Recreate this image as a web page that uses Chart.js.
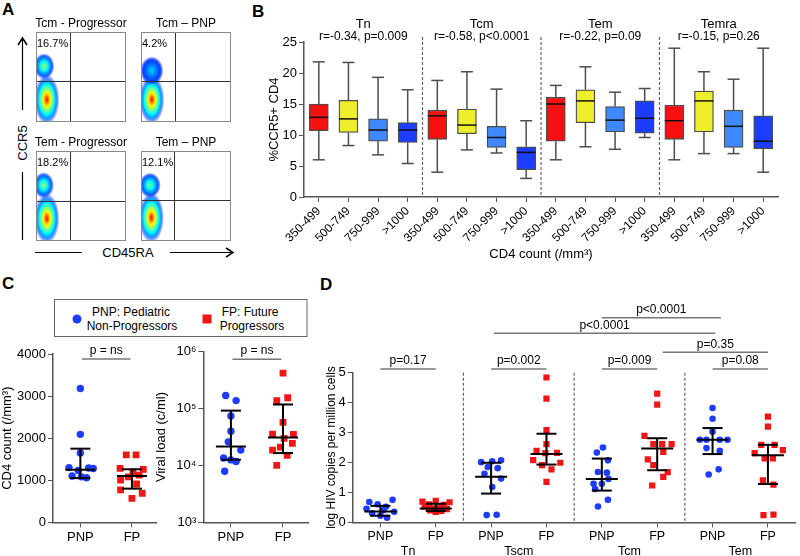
<!DOCTYPE html>
<html>
<head>
<meta charset="utf-8">
<script src="https://cdn.jsdelivr.net/npm/chart.js@4.4.1/dist/chart.umd.min.js"></script>
<style>
  body { margin: 0; width: 800px; height: 556px; position: relative; overflow: hidden; background: #fff;
         font-family: "Liberation Sans", Arial, Helvetica, sans-serif; }
  canvas, svg { position: absolute; }
</style>
</head>
<body>
<svg width="800" height="556" style="left:0;top:0" font-family="Liberation Sans, Arial, sans-serif">
  <text x="2" y="15" font-size="17" font-weight="bold">A</text>
  <text x="252" y="17" font-size="17" font-weight="bold">B</text>
  <text x="2" y="289" font-size="17" font-weight="bold">C</text>
  <text x="320" y="290" font-size="17" font-weight="bold">D</text>
  <!-- CCR5 axis arrow -->
  <line x1="22.5" y1="38" x2="22.5" y2="110" stroke="#000" stroke-width="1.2"/>
  <polyline points="18,45 22.5,38 27,45" fill="none" stroke="#000" stroke-width="1.5"/>
  <text transform="translate(27,143) rotate(-90)" text-anchor="middle" font-size="13">CCR5</text>
  <line x1="22.5" y1="172" x2="22.5" y2="240" stroke="#000" stroke-width="1.2"/>
  <!-- CD45RA axis arrow -->
  <line x1="35" y1="252.5" x2="82" y2="252.5" stroke="#000" stroke-width="1.2"/>
  <text x="128" y="257" text-anchor="middle" font-size="13">CD45RA</text>
  <line x1="170" y1="252.5" x2="232" y2="252.5" stroke="#000" stroke-width="1.2"/>
  <polyline points="226,248 233,252.5 226,257" fill="none" stroke="#000" stroke-width="1.5"/>
  <!-- legend of panel C -->
  <rect x="54.5" y="299.5" width="252.5" height="37" fill="none" stroke="#666" stroke-width="1"/>
  <circle cx="77" cy="319" r="4.5" fill="#1e3cff"/>
  <text x="131" y="316" text-anchor="middle" font-size="12">PNP: Pediatric</text>
  <text x="132" y="330" text-anchor="middle" font-size="12">Non-Progressors</text>
  <rect x="202.5" y="314.5" width="9" height="9" fill="#f01616"/>
  <text x="250" y="316" text-anchor="middle" font-size="12">FP: Future</text>
  <text x="252" y="330" text-anchor="middle" font-size="12">Progressors</text>
</svg>

<canvas id="flow0" width="110" height="112" style="left:26px;top:12px"></canvas>
<canvas id="flow1" width="110" height="112" style="left:131px;top:12px"></canvas>
<canvas id="flow2" width="110" height="112" style="left:26px;top:131px"></canvas>
<canvas id="flow3" width="110" height="112" style="left:131px;top:131px"></canvas>
<canvas id="boxes" width="527" height="266" style="left:263px;top:0px"></canvas>
<canvas id="cd4" width="170" height="216" style="left:0px;top:340px"></canvas>
<canvas id="vl" width="170" height="216" style="left:150px;top:340px"></canvas>
<canvas id="hiv" width="480" height="256" style="left:320px;top:300px"></canvas>

<script>
// ---------- A: flow plots (axis units 0-100) ----------
const flowTitles = ['Tcm - Progressor', 'Tcm \u2013 PNP', 'Tem - Progressor', 'Tem \u2013 PNP'];
const flowPercents = ['16.7%', '4.2%', '18.2%', '12.1%'];
const flowGateX = [37.4, 37.8, 37.4, 37];
const flowGateY = [45.6, 45.2, 44.9, 45.6];
// populations: [centre x, centre y, spread x, spread y, peak density]
const flowLowPop = [[12, 25, 14, 28, 1], [12, 25, 14, 27, 1], [12, 25, 14, 28, 1], [11.5, 26, 14, 28, 1]];
const flowHighPop = [[9, 62, 11.5, 14.5, 0.55], [12, 57, 13, 16, 0.25], [8.5, 62, 11.5, 14.5, 0.55], [10, 62, 12, 14, 0.5]];

// ---------- B: box plots ----------
const tSubsets = ['Tn', 'Tcm', 'Tem', 'Temra'];
const tStats = ['r=-0.34, p=0.009', 'r=-0.58, p<0.0001', 'r=-0.22, p=0.09', 'r=-0.15, p=0.26'];
const cd4Bins = ['350-499', '500-749', '750-999', '>1000'];
const boxMin = [6.0, 8.3, 6.8, 5.4, 4.0, 7.6, 7.1, 3.0, 6.0, 8.1, 7.7, 9.6, 6.0, 7.0, 7.0, 4.0];
const boxQ1 = [10.7, 10.4, 9.0, 8.8, 9.3, 10.2, 8.0, 4.4, 9.0, 12.0, 10.5, 10.3, 9.3, 10.5, 8.0, 7.8];
const boxMedian = [12.85, 12.6, 10.8, 10.8, 13.1, 11.6, 9.6, 7.2, 15.0, 15.5, 12.4, 12.7, 12.3, 15.5, 11.4, 9.0];
const boxQ3 = [15.0, 15.6, 12.6, 12.0, 14.0, 14.2, 11.4, 8.1, 16.1, 17.3, 14.6, 15.5, 14.8, 17.1, 14.0, 13.1];
const boxMax = [21.8, 21.7, 19.3, 17.3, 18.8, 20.2, 17.4, 12.3, 18.0, 21.0, 16.9, 17.5, 24.0, 20.2, 19.0, 24.0];

// ---------- C: CD4 count and viral load ----------
const groups = ['PNP', 'FP'];
const cd4Pnp = [3180, 2090, 1650, 1300, 1290, 1280, 1230, 1100, 1080, 1060];
const cd4PnpJit = [0, 0, 0, -0.22, 0.16, 0.25, -0.04, -0.16, 0.02, 0.12];
const cd4Fp = [1600, 1600, 1280, 1260, 1200, 1120, 1080, 1000, 910, 770, 690, 570];
const cd4FpJit = [-0.11, 0.08, -0.23, 0.22, 0.02, 0.14, -0.07, -0.22, 0.09, -0.22, 0.2, 0];
const cd4Med = [1250, 1100];
const cd4Q1 = [1050, 800];
const cd4Q3 = [1750, 1260];
const vlPnp = [170000, 138000, 74000, 40000, 26000, 18600, 13500, 12500, 11700, 7900];
const vlPnpJit = [-0.1, 0.1, 0, 0, -0.05, 0.19, -0.14, 0, 0.1, -0.12];
const vlFp = [420000, 155000, 138000, 57000, 35500, 35000, 30000, 24500, 21000, 18600, 15000, 10000];
const vlFpJit = [0, 0.09, -0.12, 0, -0.2, 0.2, 0.02, 0.18, -0.05, -0.2, 0.08, -0.12];
const vlMed = [21500, 31000];
const vlQ1 = [12600, 16500];
const vlQ3 = [92000, 118000];
const vlTicks = [1e3, 1e4, 1e5, 1e6];
const vlTickLabels = ['10\u00b3', '10\u2074', '10\u2075', '10\u2076'];
const nsText = 'p = ns';

// ---------- D: HIV DNA per subset ----------
const hivCells = ['Tn', 'Tscm', 'Tcm', 'Tem'];
const hivValues = [
  [0.75, 0.68, 0.6, 0.52, 0.45, 0.4, 0.35, 0.3, 0.22, 0.15],
  [0.72, 0.69, 0.67, 0.6, 0.58, 0.52, 0.5, 0.47, 0.44, 0.4, 0.38, 0.35],
  [2.07, 2.04, 2.01, 1.85, 1.81, 1.62, 1.46, 1.18, 0.24, 0.25],
  [4.84, 4.13, 3.08, 2.61, 2.39, 2.31, 2.32, 2.08, 1.99, 1.91, 1.77, 1.35],
  [2.5, 2.33, 2.07, 1.68, 1.66, 1.45, 1.29, 1.29, 1.11, 0.75, 0.53],
  [4.3, 3.93, 2.89, 2.61, 2.61, 2.61, 2.35, 2.1, 1.91, 1.68, 1.52, 1.23],
  [3.82, 3.46, 3.03, 2.76, 2.76, 2.76, 2.76, 2.48, 2.39, 1.77, 1.6],
  [3.53, 3.2, 2.59, 2.59, 2.41, 2.31, 2.14, 2.14, 1.4, 1.26, 0.26, 0.24]
];
const hivJitter = [
  [0.22, -0.2, -0.05, 0.1, -0.25, 0.05, 0.25, -0.15, 0, 0.12],
  [0, -0.24, 0.25, -0.12, 0.15, -0.2, 0.05, -0.05, 0.2, -0.1, 0.1, 0],
  [0.18, 0.02, -0.18, -0.06, 0.12, -0.12, 0.18, 0.02, -0.08, 0.1],
  [0, 0, 0, 0, -0.18, -0.02, 0.19, -0.24, 0.25, -0.08, 0.09, 0],
  [0.02, -0.09, 0.11, -0.07, 0.09, 0.12, -0.15, 0, -0.12, 0.11, -0.07],
  [0, 0, -0.23, -0.07, 0.09, 0.26, 0.11, -0.17, -0.07, 0.19, 0.11, -0.09],
  [0, 0, 0, -0.23, -0.11, 0.13, 0.27, -0.11, 0.13, 0.11, -0.07],
  [0, 0, -0.12, 0.12, 0.27, -0.24, -0.06, 0.09, -0.09, 0.1, 0.1, -0.08]
];
const hivMed = [0.36, 0.46, 1.52, 2.28, 1.45, 2.47, 2.76, 2.24];
const hivQ1 = [0.22, 0.38, 0.96, 1.93, 1.06, 1.74, 2.28, 1.28];
const hivQ3 = [0.55, 0.62, 1.99, 2.96, 2.13, 2.81, 3.15, 2.59];
const pLabels = ['p=0.17', 'p=0.002', 'p=0.009', 'p=0.08', 'p=0.35', 'p<0.0001', 'p<0.0001'];
const pFrom = [1, 3, 5, 7, 6.1, 3.05, 5];
const pTo = [2, 4, 6, 8, 8, 7.05, 7.15];
const pLevel = [5.12, 5.12, 5.12, 5.12, 5.68, 6.32, 6.84];

// ---------- common ----------
Chart.defaults.font.family = '"Liberation Sans", Arial, Helvetica, sans-serif';
Chart.defaults.color = '#000';
Chart.defaults.animation = false;
Chart.defaults.responsive = false;
Chart.defaults.plugins.legend.display = false;
Chart.defaults.plugins.tooltip.enabled = false;

const BLUE = '#1e3cff';
const RED = '#f01616';
const AXIS = '#555';

function line(ctx, x1, y1, x2, y2) {
  ctx.beginPath();
  ctx.moveTo(x1, y1);
  ctx.lineTo(x2, y2);
  ctx.stroke();
}

// jet colour map used by flow density plots
function jet(v, a) {
  const c = t => Math.round(255 * Math.max(0, Math.min(1, t)));
  return `rgba(${c(1.5 - Math.abs(4 * v - 3))},${c(1.5 - Math.abs(4 * v - 2))},${c(1.5 - Math.abs(4 * v - 1))},${a})`;
}

// ---------- A ----------
const flowPlugin = {
  id: 'flowPlot',
  afterDraw(chart, args, o) {
    const { ctx, chartArea: a, scales: { x, y } } = chart;
    ctx.save();
    ctx.beginPath();
    ctx.rect(a.left, a.top, a.right - a.left, a.bottom - a.top);
    ctx.clip();
    [o.low, o.high].forEach(([cx, cy, rx, ry, heat]) => {
      const px = x.getPixelForValue(cx), py = y.getPixelForValue(cy);
      const prx = x.getPixelForValue(cx + rx) - px;
      const pry = py - y.getPixelForValue(cy + ry);
      ctx.save();
      ctx.translate(px, py);
      ctx.scale(1, pry / prx);
      const g = ctx.createRadialGradient(0, 0, 0, 0, 0, prx);
      for (let k = 0; k <= 10; k++) {
        const t = k / 10;
        const alpha = t < 0.8 ? 1 : Math.max(0, (1 - t) / 0.2) * 0.8;
        g.addColorStop(t, jet(0.15 + 0.73 * heat * Math.pow(1 - t, 1.3), alpha));
      }
      ctx.fillStyle = g;
      ctx.beginPath();
      ctx.arc(0, 0, prx, 0, Math.PI * 2);
      ctx.fill();
      ctx.restore();
    });
    ctx.restore();

    ctx.save();
    ctx.strokeStyle = '#333';
    ctx.lineWidth = 1;
    const gx = Math.round(x.getPixelForValue(o.gateX)) + 0.5;
    const gy = Math.round(y.getPixelForValue(o.gateY)) + 0.5;
    line(ctx, gx, a.top, gx, a.bottom);
    line(ctx, a.left, gy, a.right, gy);
    ctx.strokeStyle = '#888';
    ctx.strokeRect(a.left + 0.5, a.top + 0.5, a.right - a.left - 1, a.bottom - a.top - 1);
    ctx.fillStyle = '#000';
    ctx.font = '11px "Liberation Sans", Arial, sans-serif';
    ctx.textBaseline = 'middle';
    ctx.fillText(o.pct, a.left + 1, a.top + 12);
    ctx.font = '12px "Liberation Sans", Arial, sans-serif';
    ctx.textAlign = 'center';
    ctx.fillText(o.title, (a.left + a.right) / 2, a.top - 8);
    ctx.restore();
  }
};

flowTitles.forEach((title, i) => {
  new Chart(document.getElementById('flow' + i), {
    type: 'scatter',
    data: { datasets: [{ data: [] }] },
    options: {
      layout: { padding: { left: 10, right: 10, top: 20, bottom: 2 } },
      scales: {
        x: { type: 'linear', min: 0, max: 100, display: false },
        y: { type: 'linear', min: 0, max: 100, display: false }
      },
      plugins: {
        flowPlot: {
          title, pct: flowPercents[i], gateX: flowGateX[i], gateY: flowGateY[i],
          low: flowLowPop[i], high: flowHighPop[i]
        }
      }
    },
    plugins: [flowPlugin]
  });
});

// ---------- B ----------
const binColors = ['#f81010', '#eeee2a', '#3f88ff', '#1c3cff'];
const boxLabels = tSubsets.flatMap(() => cd4Bins);

const boxPlugin = {
  id: 'boxWhiskers',
  beforeDatasetsDraw(chart) {
    const { ctx, scales: { x, y } } = chart;
    ctx.save();
    ctx.strokeStyle = '#4d4d4d';
    ctx.lineWidth = 1.5;
    boxLabels.forEach((_, i) => {
      const px = x.getPixelForValue(i);
      const yLo = y.getPixelForValue(boxMin[i]);
      const yHi = y.getPixelForValue(boxMax[i]);
      line(ctx, px, yHi, px, y.getPixelForValue(boxQ3[i]));
      line(ctx, px, y.getPixelForValue(boxQ1[i]), px, yLo);
      line(ctx, px - 6, yHi, px + 6, yHi);
      line(ctx, px - 6, yLo, px + 6, yLo);
    });
    ctx.restore();
  },
  afterDatasetsDraw(chart) {
    const { ctx, chartArea: a, scales: { x, y } } = chart;
    ctx.save();
    ctx.strokeStyle = '#111';
    ctx.lineWidth = 1.5;
    boxLabels.forEach((_, i) => {
      const px = x.getPixelForValue(i);
      const ym = y.getPixelForValue(boxMedian[i]);
      line(ctx, px - 9.5, ym, px + 9.5, ym);
    });
    ctx.strokeStyle = '#666';
    ctx.lineWidth = 1.2;
    ctx.setLineDash([3, 2]);
    for (let g = 1; g < tSubsets.length; g++) {
      const sx = (x.getPixelForValue(4 * g - 1) + x.getPixelForValue(4 * g)) / 2;
      line(ctx, sx, 37, sx, a.bottom);
    }
    ctx.setLineDash([]);
    ctx.fillStyle = '#000';
    ctx.textAlign = 'center';
    ctx.textBaseline = 'middle';
    tSubsets.forEach((name, g) => {
      const cx = (x.getPixelForValue(4 * g) + x.getPixelForValue(4 * g + 3)) / 2;
      ctx.font = '13px "Liberation Sans", Arial, sans-serif';
      ctx.fillText(name, cx, 24);
      ctx.font = '12px "Liberation Sans", Arial, sans-serif';
      ctx.fillText(tStats[g], cx, 36.5);
    });
    ctx.restore();
  }
};

new Chart(document.getElementById('boxes'), {
  type: 'bar',
  data: {
    labels: boxLabels,
    datasets: [{
      data: boxQ1.map((q, i) => [q, boxQ3[i]]),
      backgroundColor: boxLabels.map((_, i) => binColors[i % 4]),
      borderColor: '#4d4d4d',
      borderWidth: 1.3,
      borderSkipped: false,
      barThickness: 19
    }]
  },
  options: {
    layout: { padding: { top: 42, right: 12 } },
    scales: {
      x: {
        grid: { drawOnChartArea: false, offset: false, tickLength: 5, color: AXIS },
        border: { color: AXIS, width: 1.5 },
        ticks: { minRotation: 45, maxRotation: 45, autoSkip: false, padding: 2, font: { size: 12 } },
        title: { display: true, text: 'CD4 count (/mm\u00b3)', font: { size: 13 } },
        afterFit(s) { s.height = 69; }
      },
      y: {
        min: 0, max: 25,
        grid: { drawOnChartArea: false, tickLength: 5, color: AXIS },
        border: { color: AXIS, width: 1.5 },
        ticks: { stepSize: 5, font: { size: 13 }, padding: 2 },
        title: { display: true, text: '%CCR5+ CD4', font: { size: 13 } },
        afterFit(s) { s.width = 41; }
      }
    }
  },
  plugins: [boxPlugin]
});

// ---------- C / D dot plots ----------
function dots(vals, jit, pos, fp, r) {
  return {
    data: vals.map((v, i) => ({ x: pos + jit[i], y: v })),
    pointStyle: fp ? 'rect' : 'circle',
    pointRadius: fp ? r + 1.1 : r,
    backgroundColor: fp ? RED : BLUE,
    borderWidth: 0
  };
}

const errPlugin = {
  id: 'errBars',
  afterDatasetsDraw(chart, args, o) {
    const { ctx, scales: { x, y } } = chart;
    ctx.save();
    ctx.strokeStyle = '#000';
    ctx.lineWidth = 2;
    o.med.forEach((m, i) => {
      const px = x.getPixelForValue(i + 1);
      const y1 = y.getPixelForValue(o.q1[i]);
      const y3 = y.getPixelForValue(o.q3[i]);
      const ym = y.getPixelForValue(m);
      line(ctx, px, y1, px, y3);
      line(ctx, px - o.medHalf, ym, px + o.medHalf, ym);
      line(ctx, px - o.capHalf, y1, px + o.capHalf, y1);
      line(ctx, px - o.capHalf, y3, px + o.capHalf, y3);
    });
    ctx.strokeStyle = '#777';
    ctx.lineWidth = 1.5;
    ctx.fillStyle = '#000';
    ctx.font = '12px "Liberation Sans", Arial, sans-serif';
    ctx.textAlign = 'center';
    ctx.textBaseline = 'middle';
    o.brackets.forEach(b => {
      const x1 = x.getPixelForValue(b.from), x2 = x.getPixelForValue(b.to);
      const by = y.getPixelForValue(b.level);
      line(ctx, x1, by, x2, by);
      ctx.fillText(b.text, (x1 + x2) / 2, by - 8);
    });
    ctx.restore();
  }
};

const hivDecor = {
  id: 'hivDecor',
  afterDraw(chart) {
    const { ctx, chartArea: a, scales: { x } } = chart;
    ctx.save();
    ctx.strokeStyle = '#666';
    ctx.lineWidth = 1.2;
    ctx.setLineDash([3, 2]);
    [2.5, 4.5, 6.5].forEach(v => {
      const sx = x.getPixelForValue(v);
      line(ctx, sx, a.top, sx, a.bottom);
    });
    ctx.setLineDash([]);
    ctx.fillStyle = '#000';
    ctx.font = '12.5px "Liberation Sans", Arial, sans-serif';
    ctx.textAlign = 'center';
    ctx.textBaseline = 'middle';
    hivCells.forEach((c, i) => ctx.fillText(c, x.getPixelForValue(2 * i + 1.5), a.bottom + 29));
    ctx.restore();
  }
};

function dotXAxis(min, max, n, size) {
  return {
    type: 'linear', min, max,
    grid: { drawOnChartArea: false, tickLength: 5, color: AXIS },
    border: { color: AXIS, width: 1.5 },
    ticks: { font: { size: size }, padding: 2, callback: v => groups[(v - 1) % 2] },
    afterBuildTicks(s) { s.ticks = Array.from({ length: n }, (_, i) => ({ value: i + 1 })); },
    afterFit(s) { s.height = 33.7; }
  };
}

new Chart(document.getElementById('cd4'), {
  type: 'scatter',
  data: { datasets: [dots(cd4Pnp, cd4PnpJit, 1, false, 3.7), dots(cd4Fp, cd4FpJit, 2, true, 3.7)] },
  options: {
    layout: { padding: { top: 14, right: 13.3 } },
    scales: {
      x: dotXAxis(0.47, 2.48, 2, 13),
      y: {
        min: 0, max: 4000,
        grid: { drawOnChartArea: false, tickLength: 5, color: AXIS },
        border: { color: AXIS, width: 1.5 },
        ticks: { stepSize: 1000, font: { size: 13 }, padding: 2, callback: v => String(v) },
        title: { display: true, text: 'CD4 count (/mm\u00b3)', font: { size: 13 }, padding: { top: 0, bottom: 4 } },
        afterFit(s) { s.width = 53; }
      }
    },
    plugins: {
      errBars: { med: cd4Med, q1: cd4Q1, q3: cd4Q3, medHalf: 15, capHalf: 10,
        brackets: [{ from: 1.03, to: 1.97, level: 3880, text: nsText }] }
    }
  },
  plugins: [errPlugin]
});

new Chart(document.getElementById('vl'), {
  type: 'scatter',
  data: { datasets: [dots(vlPnp, vlPnpJit, 1, false, 3.7), dots(vlFp, vlFpJit, 2, true, 3.7)] },
  options: {
    layout: { padding: { top: 11.7, right: 12 } },
    scales: {
      x: dotXAxis(0.47, 2.48, 2, 13),
      y: {
        type: 'logarithmic', min: 1e3, max: 1e6,
        grid: { drawOnChartArea: false, tickLength: 5, color: AXIS },
        border: { color: AXIS, width: 1.5 },
        ticks: { font: { size: 13 }, padding: 2, callback: v => vlTickLabels[vlTicks.indexOf(v)] },
        afterBuildTicks(s) { s.ticks = vlTicks.map(v => ({ value: v })); },
        title: { display: true, text: 'Viral load (c/ml)', font: { size: 13 } },
        afterFit(s) { s.width = 53.3; }
      }
    },
    plugins: {
      errBars: { med: vlMed, q1: vlQ1, q3: vlQ3, medHalf: 15, capHalf: 10,
        brackets: [{ from: 1.03, to: 1.97, level: 740000, text: nsText }] }
    }
  },
  plugins: [errPlugin]
});

new Chart(document.getElementById('hiv'), {
  type: 'scatter',
  data: { datasets: hivValues.map((vals, i) => dots(vals, hivJitter[i], i + 1, i % 2 === 1, 3.3)) },
  options: {
    layout: { padding: { top: 72.7, right: 2 } },
    scales: {
      x: dotXAxis(0.5, 8.5, 8, 12.5),
      y: {
        min: 0, max: 5,
        grid: { drawOnChartArea: false, tickLength: 5, color: AXIS },
        border: { color: AXIS, width: 1.5 },
        ticks: { stepSize: 1, font: { size: 13 }, padding: 2 },
        title: { display: true, text: 'log HIV copies per million cells', font: { size: 12 } },
        afterFit(s) { s.width = 32.7; }
      }
    },
    plugins: {
      errBars: { med: hivMed, q1: hivQ1, q3: hivQ3, medHalf: 16, capHalf: 10,
        brackets: pLabels.map((t, i) => ({ from: pFrom[i], to: pTo[i], level: pLevel[i], text: t })) }
    }
  },
  plugins: [errPlugin, hivDecor]
});
</script>
</body>
</html>
